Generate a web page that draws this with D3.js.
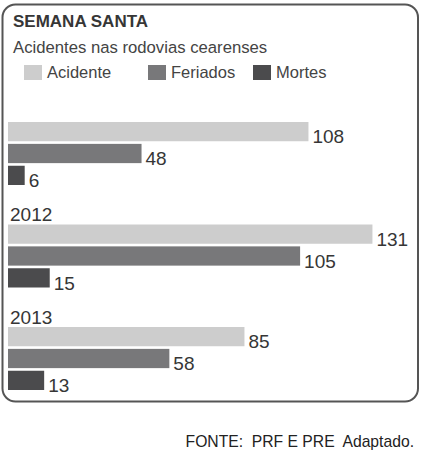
<!DOCTYPE html>
<html>
<head>
<meta charset="utf-8">
<script src="https://cdn.jsdelivr.net/npm/d3@7"></script>
<style>
  html, body { margin: 0; padding: 0; background: #fff; }
  svg { display: block; font-family: "Liberation Sans", Arial, sans-serif; }
</style>
</head>
<body>
<svg id="chart" width="424" height="455"></svg>
<script>
const categories = ["2011", "2012", "2013"];
const yearLabels = ["", "2012", "2013"];
const seriesNames = ["Acidente", "Feriados", "Mortes"];
const acidente = [108, 131, 85];
const feriados = [48, 105, 58];
const mortes = [6, 15, 13];
const seriesColors = ["#cdcdcd", "#78787a", "#4b4b4d"];

const seriesValues = [acidente, feriados, mortes];
const rows = [];
categories.forEach((c, i) => {
  seriesNames.forEach((s, j) => rows.push({ cat: c, series: s, value: seriesValues[j][i], color: seriesColors[j] }));
});

const svg = d3.select("#chart");
const textColor = "#363636";

// frame
svg.append("rect")
  .attr("x", 2.5).attr("y", 4.5).attr("width", 415.5).attr("height", 397)
  .attr("rx", 13).attr("ry", 13)
  .attr("fill", "#fff").attr("stroke", "#555").attr("stroke-width", 2);

// titles
svg.append("text").attr("x", 13).attr("y", 26.5)
  .attr("font-size", 17).attr("font-weight", "bold").attr("fill", textColor)
  .text("SEMANA SANTA");
svg.append("text").attr("x", 13).attr("y", 52.5)
  .attr("font-size", 16.7).attr("fill", "#444")
  .text("Acidentes nas rodovias cearenses");

// legend
const legendX = [24, 148, 253];
const leg = svg.append("g").selectAll("g").data(seriesNames).join("g")
  .attr("transform", (d, i) => `translate(${legendX[i]},0)`);
leg.append("rect").attr("x", 0).attr("y", 65).attr("width", 18).attr("height", 15)
  .attr("fill", (d, i) => seriesColors[i]);
leg.append("text").attr("x", 23).attr("y", 77.5)
  .attr("font-size", 16.5).attr("fill", "#444").text(d => d);

// scales
const x = d3.scaleLinear().domain([0, 133]).range([8, 378]);
const yGroup = d3.scaleBand().domain(categories).range([122, 429.5]).paddingInner(0).paddingOuter(0);
const ySeries = d3.scaleBand().domain(seriesNames).range([0, 63]).paddingInner(0.12).paddingOuter(0);

// year labels
svg.append("g").selectAll("text").data(categories).join("text")
  .attr("x", 10).attr("y", d => yGroup(d) - 3.5)
  .attr("font-size", 19).attr("fill", textColor)
  .text((d, i) => yearLabels[i]);

// bars
svg.append("g").selectAll("rect").data(rows).join("rect")
  .attr("x", x(0))
  .attr("y", d => yGroup(d.cat) + ySeries(d.series))
  .attr("width", d => x(d.value) - x(0))
  .attr("height", ySeries.bandwidth())
  .attr("fill", d => d.color);

// value labels
svg.append("g").selectAll("text").data(rows).join("text")
  .attr("x", d => x(d.value) + 4)
  .attr("y", d => yGroup(d.cat) + ySeries(d.series) + ySeries.bandwidth() + 2)
  .attr("font-size", 19).attr("fill", textColor)
  .text(d => d.value);

// source
svg.append("text").attr("x", 414).attr("y", 447)
  .attr("text-anchor", "end").attr("font-size", 15.7).attr("fill", "#222")
  .style("white-space", "pre")
  .text("FONTE:  PRF E PRE  Adaptado.");
</script>
</body>
</html>
